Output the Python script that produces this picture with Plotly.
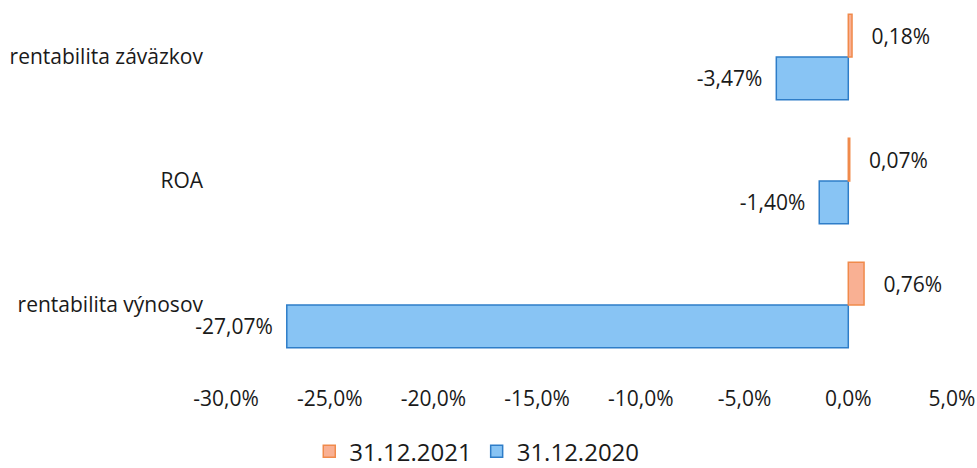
import plotly.graph_objects as go

categories = ["rentabilita výnosov", "ROA", "rentabilita záväzkov"]
values_2021 = [0.76, 0.07, 0.18]
values_2020 = [-27.07, -1.40, -3.47]
series_names = ["31.12.2021", "31.12.2020"]
tick_values = [-30, -25, -20, -15, -10, -5, 0, 5]
tick_labels = ["-30,0%", "-25,0%", "-20,0%", "-15,0%", "-10,0%", "-5,0%", "0,0%", "5,0%"]

FONT = "Open Sans"
NB = "\u00a0"


def fmt(v):
    return f"{v:.2f}".replace(".", ",") + "%"


fig = go.Figure()
fig.add_trace(go.Bar(
    y=categories, x=values_2020, orientation="h", name=series_names[1],
    marker=dict(color="#88C4F4", line=dict(color="#2E7DC8", width=1.5)),
    text=[fmt(v) + NB * 2 for v in values_2020],
    textposition="outside", cliponaxis=False,
    textfont=dict(family=FONT, size=21, color="#1a1a1a"),
))
fig.add_trace(go.Bar(
    y=categories, x=values_2021, orientation="h", name=series_names[0],
    marker=dict(color="#F9B093", line=dict(color="#F08A4B", width=1.5)),
    text=[NB * 3 + fmt(v) for v in values_2021],
    textposition="outside", cliponaxis=False,
    textfont=dict(family=FONT, size=21, color="#1a1a1a"),
))

fig.update_layout(
    width=977, height=468,
    margin=dict(l=226, r=25, t=0, b=101, autoexpand=False),
    paper_bgcolor="white", plot_bgcolor="white",
    barmode="group", bargap=0.31, bargroupgap=0,
    font=dict(family=FONT, size=21, color="#1a1a1a"),
    showlegend=True,
    legend=dict(orientation="h", xref="container", yref="container",
                x=0.488, xanchor="center", y=0.035, yanchor="middle",
                traceorder="reversed", font=dict(family=FONT, size=24, color="#1a1a1a"),
                itemwidth=30, tracegroupgap=0),
    xaxis=dict(range=[-30, 5], tickvals=tick_values, ticktext=tick_labels,
               showgrid=False, zeroline=False, showline=False, automargin=False,
               ticklabelstandoff=17, tickfont=dict(family=FONT, size=21, color="#1a1a1a")),
    yaxis=dict(type="category", range=[-0.5, 2.46], showgrid=False, showline=False,
               automargin=False,
               ticklabelstandoff=22, tickfont=dict(family=FONT, size=21, color="#1a1a1a")),
)

fig.write_html("out.html")
